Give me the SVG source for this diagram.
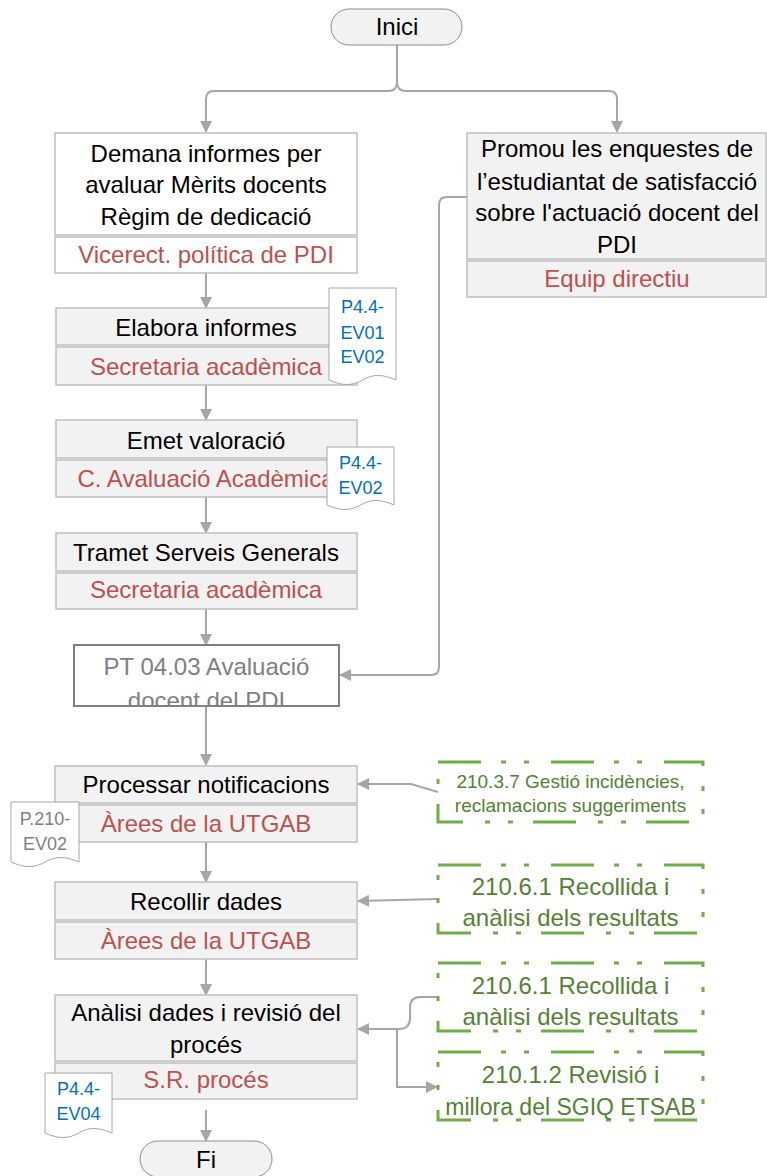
<svg xmlns="http://www.w3.org/2000/svg" width="767" height="1176" viewBox="0 0 767 1176">
<style>
text{font-family:"Liberation Sans",Arial,sans-serif;font-size:24px;text-anchor:middle;fill:#000}
.red{fill:#c0504d}
.blue{fill:#0070c0;font-size:18px}
.gdoc{fill:#7f7f7f;font-size:18px}
.green{fill:#548235}
.pt{fill:#808080}
.gbox{fill:#f2f2f2;stroke:#bfbfbf;stroke-width:1.5}
.wbox{fill:#fff;stroke:#bfbfbf;stroke-width:1.5}
.term{fill:#f2f2f2;stroke:#8c8c8c;stroke-width:1}
.doc{fill:#fff;stroke:#a6a6a6;stroke-width:1}
.dash{fill:#fff;stroke:#70ad47;stroke-width:3;stroke-dasharray:43 20 5 18 5 22}
.con{fill:none;stroke:#a6a6a6;stroke-width:2}
</style>
<defs>
<marker id="arr" viewBox="0 0 12 12" refX="11" refY="6" markerWidth="12" markerHeight="12" markerUnits="userSpaceOnUse" orient="auto">
<path d="M0,0 L12,6 L0,12 z" fill="#a6a6a6"/>
</marker>
<clipPath id="ptclip"><rect x="74" y="645" width="265" height="61"/></clipPath>
</defs>
<rect width="767" height="1176" fill="#fff"/>

<g id="connectors">
<path class="con" d="M397,45 V82 Q397,91 388,91 H214 Q206,91 206,99 V132" marker-end="url(#arr)"/>
<path class="con" d="M397,45 V82 Q397,91 406,91 H609 Q617,91 617,99 V132" marker-end="url(#arr)"/>
<path class="con" d="M206,273 V308" marker-end="url(#arr)"/>
<path class="con" d="M206,385 V420" marker-end="url(#arr)"/>
<path class="con" d="M206,497 V533" marker-end="url(#arr)"/>
<path class="con" d="M206,609 V645" marker-end="url(#arr)"/>
<path class="con" d="M467,197 H447 Q439,197 439,205 V667 Q439,675 431,675 H340" marker-end="url(#arr)"/>
<path class="con" d="M206,706 V765" marker-end="url(#arr)"/>
<path class="con" d="M438,792 L411,784 H358" marker-end="url(#arr)"/>
<path class="con" d="M206,842 V882" marker-end="url(#arr)"/>
<path class="con" d="M438,899 L358,901" marker-end="url(#arr)"/>
<path class="con" d="M206,959 V995" marker-end="url(#arr)"/>
<path class="con" d="M438,997 H420 Q410,997 410,1008 V1018 Q410,1029 399,1029 H358" marker-end="url(#arr)"/>
<path class="con" d="M397,1029 V1087 H437" marker-end="url(#arr)"/>
<path class="con" d="M206,1110 V1141" marker-end="url(#arr)"/>
</g>

<g id="inici">
<rect class="term" x="331" y="9" width="131" height="36" rx="18"/>
<text x="397" y="35">Inici</text>
</g>

<g id="demana">
<rect class="wbox" x="55" y="133" width="302" height="102"/>
<rect class="wbox" x="55" y="237" width="302" height="36"/>
<text x="206" y="162">Demana informes per</text>
<text x="206" y="193">avaluar Mèrits docents</text>
<text x="206" y="225">Règim de dedicació</text>
<text class="red" x="206" y="263">Vicerect. política de PDI</text>
</g>

<g id="promou">
<rect class="gbox" x="467" y="133" width="299" height="126"/>
<rect class="gbox" x="467" y="261" width="299" height="36"/>
<text x="617" y="157">Promou les enquestes de</text>
<text x="617" y="190">l’estudiantat de satisfacció</text>
<text x="617" y="221">sobre l'actuació docent del</text>
<text x="617" y="253">PDI</text>
<text class="red" x="617" y="287">Equip directiu</text>
</g>

<g id="elabora">
<rect class="gbox" x="56" y="308" width="301" height="37"/>
<rect class="gbox" x="56" y="347" width="301" height="38"/>
<text x="206" y="336">Elabora informes</text>
<text class="red" x="206" y="375">Secretaria acadèmica</text>
</g>

<g id="emet">
<rect class="gbox" x="56" y="420" width="301" height="38"/>
<rect class="gbox" x="56" y="460" width="301" height="37"/>
<text x="206" y="449">Emet valoració</text>
<text class="red" x="206" y="487">C. Avaluació Acadèmica</text>
</g>

<g id="tramet">
<rect class="gbox" x="56" y="533" width="301" height="38"/>
<rect class="gbox" x="56" y="573" width="301" height="36"/>
<text x="206" y="561">Tramet Serveis Generals</text>
<text class="red" x="206" y="598">Secretaria acadèmica</text>
</g>

<g id="pt0403">
<rect x="74" y="645" width="265" height="61" fill="#fff"/>
<g clip-path="url(#ptclip)">
<text class="pt" x="206.5" y="675">PT 04.03 Avaluació</text>
<text class="pt" x="206.5" y="709">docent del PDI</text>
</g>
<rect x="74" y="645" width="265" height="61" fill="none" stroke="#808080" stroke-width="2"/>
</g>

<g id="processar">
<rect class="gbox" x="55" y="766" width="302" height="37"/>
<rect class="gbox" x="55" y="805" width="302" height="37"/>
<text x="206" y="793">Processar notificacions</text>
<text class="red" x="206" y="832">Àrees de la UTGAB</text>
</g>

<g id="recollir">
<rect class="gbox" x="55" y="882" width="302" height="38"/>
<rect class="gbox" x="55" y="922" width="302" height="37"/>
<text x="206" y="910">Recollir dades</text>
<text class="red" x="206" y="949">Àrees de la UTGAB</text>
</g>

<g id="analisi">
<rect class="gbox" x="55" y="995" width="302" height="66"/>
<rect class="gbox" x="55" y="1063" width="302" height="36"/>
<text x="206" y="1021">Anàlisi dades i revisió del</text>
<text x="206" y="1053">procés</text>
<text class="red" x="206" y="1088">S.R. procés</text>
</g>

<g id="fi">
<rect class="term" x="140" y="1141" width="132" height="36" rx="18"/>
<text x="206" y="1168">Fi</text>
</g>

<g id="doc-p44-ev01-ev02">
<path class="doc" d="M329,288 H396 V380 C382.6,374 372.5,374 362.5,380 S342.4,386 329,380 Z"/>
<text class="blue" x="362.5" y="312.5">P4.4-</text>
<text class="blue" x="362.5" y="338.5">EV01</text>
<text class="blue" x="362.5" y="362.5">EV02</text>
</g>

<g id="doc-p44-ev02">
<path class="doc" d="M327,447 H394 V505 C380.6,499 370.5,499 360.5,505 S340.4,511 327,505 Z"/>
<text class="blue" x="360.5" y="468.5">P4.4-</text>
<text class="blue" x="360.5" y="493.5">EV02</text>
</g>

<g id="doc-p210-ev02">
<path class="doc" d="M11,802 H79 V862 C65.4,856 55.2,856 45,862 S24.6,868 11,862 Z"/>
<text class="gdoc" x="45" y="824.5">P.210-</text>
<text class="gdoc" x="45" y="849.5">EV02</text>
</g>

<g id="doc-p44-ev04">
<path class="doc" d="M45,1073 H112 V1133 C98.6,1127 88.5,1127 78.5,1133 S58.4,1139 45,1133 Z"/>
<text class="blue" x="78.5" y="1094.5">P4.4-</text>
<text class="blue" x="78.5" y="1119.5">EV04</text>
</g>

<g id="sub-210-3-7">
<rect class="dash" x="438" y="762" width="265" height="60"/>
<text class="green" x="570.5" y="787.5" style="font-size:19px">210.3.7 Gestió incidències,</text>
<text class="green" x="570.5" y="811.5" style="font-size:19px">reclamacions suggeriments</text>
</g>

<g id="sub-210-6-1-a">
<rect class="dash" x="438" y="865" width="265" height="68"/>
<text class="green" x="570.5" y="895">210.6.1 Recollida i</text>
<text class="green" x="570.5" y="926">anàlisi dels resultats</text>
</g>

<g id="sub-210-6-1-b">
<rect class="dash" x="438" y="963" width="265" height="68"/>
<text class="green" x="570.5" y="994">210.6.1 Recollida i</text>
<text class="green" x="570.5" y="1025">anàlisi dels resultats</text>
</g>

<g id="sub-210-1-2">
<rect class="dash" x="438" y="1052" width="265" height="68"/>
<text class="green" x="570.5" y="1083">210.1.2 Revisió i</text>
<text class="green" x="570.5" y="1115" style="font-size:23px">millora del SGIQ ETSAB</text>
</g>
</svg>
